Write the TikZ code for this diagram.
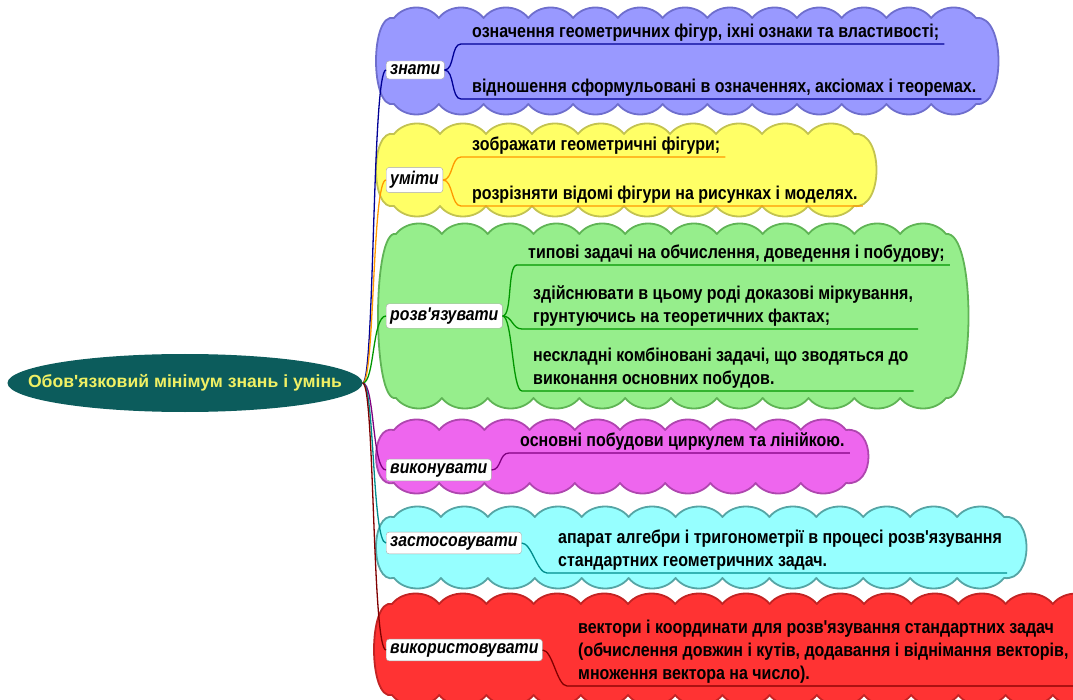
\documentclass[tikz,border=0pt]{standalone}
\usepackage{fontspec}
\newfontfamily\mapfont{Liberation Sans}[FakeStretch=0.86, Ligatures=TeXOff]
\newfontfamily\corefont{Liberation Sans}[Ligatures=TeXOff]
\usetikzlibrary{shapes.geometric}

\definecolor{bluefill}{RGB}{153,153,255}
\definecolor{blueedge}{RGB}{110,110,205}
\definecolor{yellowfill}{RGB}{255,255,102}
\definecolor{yellowedge}{RGB}{195,195,80}
\definecolor{greenfill}{RGB}{150,238,140}
\definecolor{greenedge}{RGB}{95,180,85}
\definecolor{pinkfill}{RGB}{238,102,238}
\definecolor{pinkedge}{RGB}{175,70,175}
\definecolor{cyanfill}{RGB}{150,255,255}
\definecolor{cyanedge}{RGB}{85,165,165}
\definecolor{redfill}{RGB}{255,51,51}
\definecolor{rededge}{RGB}{195,35,35}
\definecolor{corefill}{RGB}{12,92,92}
\definecolor{coretext}{RGB}{240,240,100}
\definecolor{bluebr}{RGB}{0,0,150}
\definecolor{orangebr}{RGB}{255,153,0}
\definecolor{greenbr}{RGB}{0,150,0}
\definecolor{purplebr}{RGB}{128,0,128}
\definecolor{tealbr}{RGB}{0,140,140}
\definecolor{redbr}{RGB}{128,0,0}

% scalloped cloud: x1 y1 x2 y2 fill edge
\newcommand\cloudarea[6]{%
  \pgfmathtruncatemacro\cloudn{round((#3-#1)/46)}
  \pgfmathsetmacro\clouds{(#3-#1)/\cloudn}
  \filldraw[fill=#5, draw=#6, line width=1.8pt, line join=round]
    (#1,#2) foreach \k in {1,...,\cloudn} { .. controls +(11,-14) and +(-11,-14) .. ++(\clouds,0) }
    .. controls +(30,-4) and +(30,4) .. (#3,#4)
    foreach \k in {1,...,\cloudn} { .. controls +(-11,14) and +(11,14) .. ++(-\clouds,0) }
    .. controls +(-24,6) and +(-24,-6) .. (#1,#2) -- cycle;
}

\tikzset{
  topic/.style={draw=gray!70, fill=white, rounded corners=3pt, inner xsep=4pt, inner ysep=4pt,
    anchor=west, font=\mapfont\bfseries\itshape\fontsize{18.4}{23}\selectfont},
  item/.style={anchor=south west, align=left, inner xsep=5pt, inner ysep=2pt,
    font=\mapfont\bfseries\fontsize{18.6}{23}\selectfont},
  branch/.style={line width=1.3pt},
}

\begin{document}
\begin{tikzpicture}[x=1pt, y=-1pt]
    \useasboundingbox (0,0) rectangle (1073,700);

    % clouds behind each group
    \cloudarea{394}{18}{976}{104}{bluefill}{blueedge}
    \cloudarea{394}{134}{854}{206}{yellowfill}{yellowedge}
    \cloudarea{396}{234}{946}{398}{greenfill}{greenedge}
    \cloudarea{394}{430}{846}{483}{pinkfill}{pinkedge}
    \cloudarea{394}{517}{1004}{578}{cyanfill}{cyanedge}
    \cloudarea{392}{604}{1100}{695}{redfill}{rededge}

    % central topic
    \node[ellipse, fill=corefill, minimum width=355pt, minimum height=58pt, inner sep=0pt] (core) at (185,383) {};
    \node[text=coretext, font=\corefont\bfseries\fontsize{17.6}{22}\selectfont] (coretitle) at (core.center)
          {Обов'язковий мінімум знань і умінь};

    % topics
    \node[topic] (znaty) at (386,70) {знати};
    \node[topic] (vmity) at (386,180) {уміти};
    \node[topic] (rozv) at (386,316) {розв'язувати};
    \node[topic] (vykon) at (386,470) {виконувати};
    \node[topic] (zast) at (386,543) {застосовувати};
    \node[topic] (vykor) at (386,650) {використовувати};

    % items
    \node[item] (z1) at (467,44) {означення геометричних фігур, іхні ознаки та властивості;};
    \node[item] (z2) at (467,99) {відношення сформульовані в означеннях, аксіомах і теоремах.};
    \node[item] (u1) at (467,157) {зображати геометричні фігури;};
    \node[item] (u2) at (467,206) {розрізняти відомі фігури на рисунках і моделях.};
    \node[item] (r1) at (523,265) {типові задачі на обчислення, доведення і побудову;};
    \node[item] (r2) at (528,329) {здійснювати в цьому роді доказові міркування,\\грунтуючись на теоретичних фактах;};
    \node[item] (r3) at (528,391) {нескладні комбіновані задачі, що зводяться до\\виконання основних побудов.};
    \node[item] (v1) at (515,453) {основні побудови циркулем та лінійкою.};
    \node[item] (s1) at (553,573) {апарат алгебри і тригонометрії в процесі розв'язування\\стандартних геометричних задач.};
    \node[item] (k1) at (573,686) {вектори і координати для розв'язування стандартних задач\\(обчислення довжин і кутів, додавання і віднімання векторів,\\множення вектора на число).};

    % branches from the centre
    \draw[branch, bluebr] (core.east) .. controls +(12,0) and +(-14,0) .. (znaty.west);
    \draw[branch, orangebr] (core.east) .. controls +(12,0) and +(-14,0) .. (vmity.west);
    \draw[branch, greenbr] (core.east) .. controls +(12,0) and +(-14,0) .. (rozv.west);
    \draw[branch, purplebr] (core.east) .. controls +(12,0) and +(-14,0) .. (vykon.west);
    \draw[branch, tealbr] (core.east) .. controls +(12,0) and +(-14,0) .. (zast.west);
    \draw[branch, redbr] (core.east) .. controls +(12,0) and +(-14,0) .. (vykor.west);

    % underlined items
    \foreach \t/\i/\c in {znaty/z1/bluebr, znaty/z2/bluebr, vmity/u1/orangebr, vmity/u2/orangebr,
                          rozv/r1/greenbr, rozv/r2/greenbr, rozv/r3/greenbr, vykon/v1/purplebr,
                          zast/s1/tealbr, vykor/k1/redbr}
      \draw[branch, \c] (\t.east) .. controls +(10,0) and +(-10,0) .. ([xshift=-6pt]\i.south west) -- (\i.south east);
\end{tikzpicture}
\end{document}
